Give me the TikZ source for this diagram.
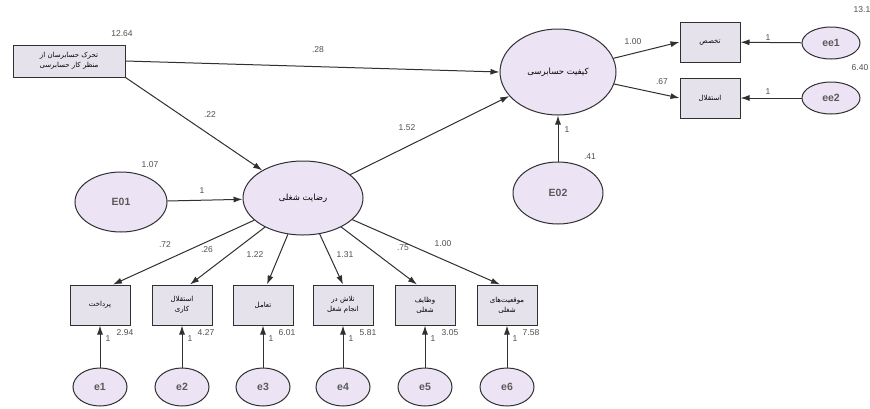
\documentclass[tikz,border=0pt]{standalone}
\usepackage{fontspec}
\setmainfont{Liberation Sans}
\newfontfamily\fa[Script=Arabic]{DejaVu Sans}
\TeXXeTstate=1
\usetikzlibrary{shapes.geometric,arrows.meta}
\newcommand{\per}[1]{{\fa\beginR #1\endR}}
\definecolor{ellfill}{HTML}{ECE4F4}
\definecolor{boxfill}{HTML}{E6E2EC}
\definecolor{ln}{HTML}{303030}
\begin{document}
\begin{tikzpicture}[x=1pt,y=-1pt,
  ell/.style={draw=ln,line width=1pt,ellipse,fill=ellfill,inner sep=0pt,font=\fontsize{10.5}{12}\selectfont\bfseries\color{ln!80}},
  obs/.style={draw=ln,line width=1pt,rectangle,fill=boxfill,minimum width=60pt,minimum height=40pt,inner sep=1pt,align=center,font=\fontsize{7}{10}\selectfont},
  arr/.style={draw=ln,line width=1pt,-{Latex[length=9pt,width=6pt]}},
  lbl/.style={font=\fontsize{8.5}{9}\selectfont,text=ln!85,inner sep=0pt},
  lat/.style={ell,font=\fontsize{8.5}{10}\selectfont}
]
\useasboundingbox (0,0) rectangle (870,408);
\fill[white] (0,0) rectangle (870,408);

% nodes
\node[obs,minimum width=112pt,minimum height=32pt] (src) at (69,61) {\per{تحرک حسابرسان از}\\\per{منظر کار حسابرسی}};
\node[obs] (tk) at (710,42) {\per{تخصص}};
\node[obs] (st) at (710,98) {\per{استقلال}};
\node[ell,minimum width=58pt,minimum height=32pt] (ee1) at (831,43) {ee1};
\node[ell,minimum width=58pt,minimum height=32pt] (ee2) at (831,98) {ee2};
\node[ell,minimum width=90pt,minimum height=62pt] (E02) at (558,193) {E02};
\node[ell,minimum width=92pt,minimum height=60pt] (E01) at (121,202) {E01};

\node[obs] (b1) at (100,305) {\per{پرداخت}};
\node[obs] (b2) at (182,305) {\per{استقلال}\\\per{کاری}};
\node[obs] (b3) at (263,305) {\per{تعامل}};
\node[obs] (b4) at (343,305) {\per{تلاش در}\\\per{انجام شغل}};
\node[obs] (b5) at (425,305) {\per{وظایف}\\\per{شغلی}};
\node[obs] (b6) at (507,305) {\per{موقعیت‌های}\\\per{شغلی}};

\node[lat,minimum width=116pt,minimum height=86pt] (kq) at (558,72) {\per{کیفیت حسابرسی}};
\node[lat,minimum width=120pt,minimum height=74pt] (sat) at (303,198) {\per{رضایت شغلی}};

\foreach \i/\x in {1/100,2/182,3/263,4/343,5/425,6/507}{
  \node[ell,minimum width=54pt,minimum height=38pt] (e\i) at (\x,387) {e\i};
  \draw[arr] (e\i) -- (b\i);
  \node[lbl] at (\x+8,339) {1};
}

% connectors
\draw[arr] (src.east) -- (kq.west);
\draw[arr] (src.south east) -- (sat);
\draw[arr] (sat) -- (kq);
\draw[arr] (E01) -- (sat);
\draw[arr] (kq) -- (tk.west);
\draw[arr] (kq) -- (st.west);
\draw[arr] (ee1) -- (tk);
\draw[arr] (ee2) -- (st);
\draw[arr] (E02) -- (kq);
\draw[arr] (sat) -- ([xshift=13pt]b1.north);
\draw[arr] (sat) -- ([xshift=8pt]b2.north);
\draw[arr] (sat) -- ([xshift=4pt]b3.north);
\draw[arr] (sat) -- ([xshift=0pt]b4.north);
\draw[arr] (sat) -- ([xshift=-8pt]b5.north);
\draw[arr] (sat) -- ([xshift=-7pt]b6.north);

% labels
\node[lbl] at (122,34) {12.64};
\node[lbl] at (318,50) {.28};
\node[lbl] at (210,115) {.22};
\node[lbl] at (407,128) {1.52};
\node[lbl] at (150,165) {1.07};
\node[lbl] at (202,191) {1};
\node[lbl] at (633,42) {1.00};
\node[lbl] at (662,82) {.67};
\node[lbl] at (768,38) {1};
\node[lbl] at (768,92) {1};
\node[lbl] at (862,10) {13.1};
\node[lbl] at (860,68) {6.40};
\node[lbl] at (567,130) {1};
\node[lbl] at (590,157) {.41};
\node[lbl] at (165,245) {.72};
\node[lbl] at (207,250) {.26};
\node[lbl] at (255,255) {1.22};
\node[lbl] at (345,255) {1.31};
\node[lbl] at (403,248) {.75};
\node[lbl] at (443,244) {1.00};
\node[lbl] at (125,333) {2.94};
\node[lbl] at (206,333) {4.27};
\node[lbl] at (287,333) {6.01};
\node[lbl] at (368,333) {5.81};
\node[lbl] at (450,333) {3.05};
\node[lbl] at (531,333) {7.58};
\end{tikzpicture}
\end{document}
